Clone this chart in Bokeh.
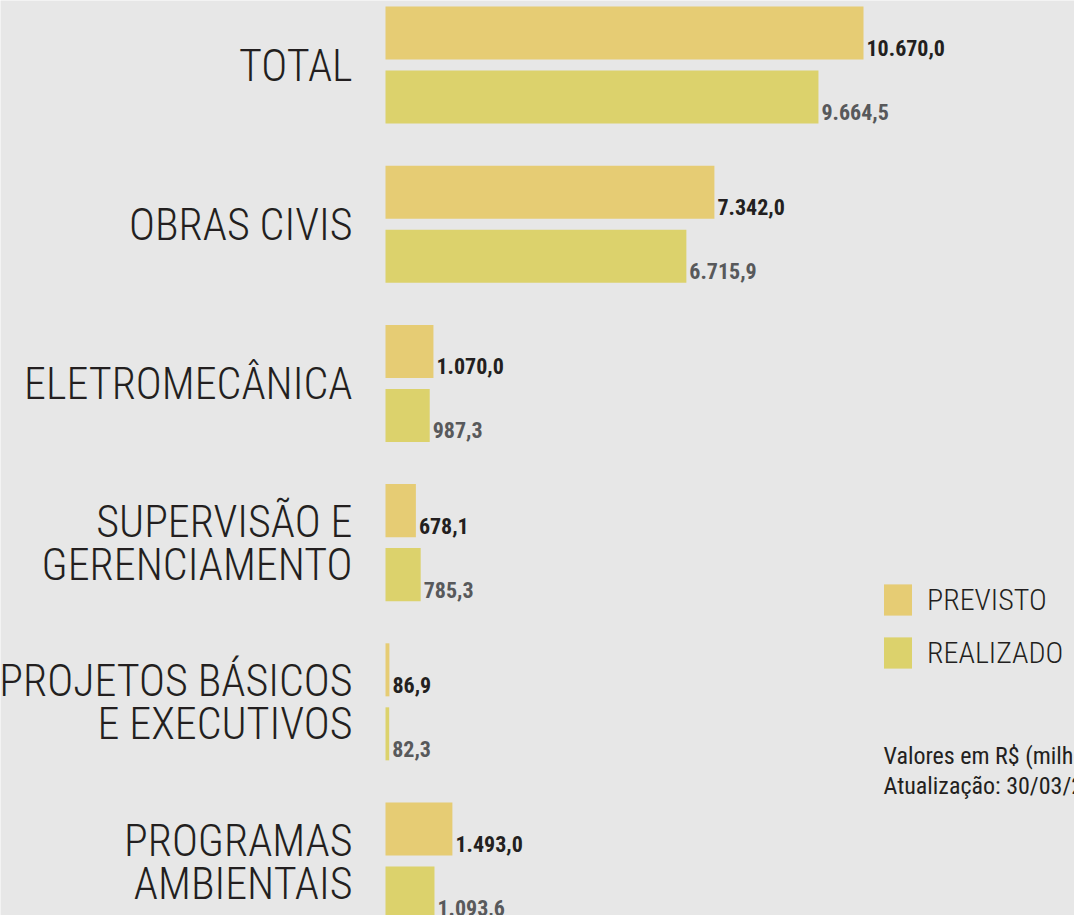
from bokeh.plotting import figure
from bokeh.models import Range1d, ColumnDataSource, Legend, LegendItem, Label
from bokeh.core.properties import value
from bokeh.embed import file_html
from bokeh.resources import INLINE

# ---- data ----
categories = ["TOTAL", "OBRAS CIVIS", "ELETROMECÂNICA", "SUPERVISÃO E\nGERENCIAMENTO",
              "PROJETOS BÁSICOS\nE EXECUTIVOS", "PROGRAMAS\nAMBIENTAIS"]
previsto = [10670.0, 7342.0, 1070.0, 678.1, 86.9, 1493.0]
realizado = [9664.5, 6715.9, 987.3, 785.3, 82.3, 1093.6]
series_names = ["PREVISTO", "REALIZADO"]
note_lines = ["Valores em R$ (milhões)", "Atualização: 30/03/2016"]

BG = "#e7e7e7"
C_PREV = "#e6cc74"
C_REAL = "#dcd26c"
FONT_THIN = "Roboto Condensed Light, Roboto Condensed, sans-serif"
FONT = "Roboto Condensed, sans-serif"


def br(v):
    s = f"{v:,.1f}"
    return s.replace(",", "X").replace(".", ",").replace("X", ".")


W, H = 1074, 915
x0_px = 385.0
px_per_unit = 478.0 / max(previsto)

n = len(categories)
idx = list(range(n))
y_prev = [i - 0.201 for i in idx]
y_real = [i + 0.201 for i in idx]

src_prev = ColumnDataSource(dict(y=y_prev, v=previsto, lab=[br(v) for v in previsto]))
src_real = ColumnDataSource(dict(y=y_real, v=realizado, lab=[br(v) for v in realizado]))

p = figure(width=W, height=H, output_backend="svg", toolbar_location=None,
           x_range=Range1d(-x0_px / px_per_unit, (W - x0_px) / px_per_unit),
           y_range=Range1d(5.342, -0.405),
           x_axis_type=None, y_axis_type=None, min_border=0)
p.background_fill_color = BG
p.border_fill_color = BG
p.outline_line_color = None
p.grid.visible = False

r_prev = p.hbar(y="y", right="v", left=0, height=0.333, source=src_prev,
                fill_color=C_PREV, line_color=None)
r_real = p.hbar(y="y", right="v", left=0, height=0.333, source=src_real,
                fill_color=C_REAL, line_color=None)

p.text(x="v", y="y", text="lab", source=src_prev, x_offset=3, y_offset=15,
       text_font=value(FONT), text_font_style="bold", text_font_size="22px",
       text_color="#231f20", text_baseline="alphabetic", text_align="left")
p.text(x="v", y="y", text="lab", source=src_real, x_offset=3, y_offset=15,
       text_font=value(FONT), text_font_style="bold", text_font_size="22px",
       text_color="#58595b", text_baseline="alphabetic", text_align="left")

# category labels (split lines)
lx, ly, lt, loff = [], [], [], []
for i, c in enumerate(categories):
    lines = c.split("\n")
    k = len(lines)
    for j, t in enumerate(lines):
        lx.append(0)
        ly.append(i)
        lt.append(t)
        loff.append((j - (k - 1) / 2) * 43 + 1)
src_cat = ColumnDataSource(dict(x=lx, y=ly, t=lt, off=loff))
p.text(x="x", y="y", text="t", source=src_cat, x_offset=-33, y_offset="off",
       text_font=value(FONT_THIN), text_font_size="44px", text_color="#231f20",
       text_align="right", text_baseline="middle")

legend = Legend(items=[LegendItem(label=series_names[0], renderers=[r_prev]),
                       LegendItem(label=series_names[1], renderers=[r_real])],
                location=(880, 243), orientation="vertical",
                glyph_width=35, glyph_height=39, label_height=39, spacing=14,
                padding=0, margin=0, label_standoff=12,
                label_text_font=FONT_THIN, label_text_font_size="30px",
                label_text_color="#231f20",
                background_fill_alpha=0, border_line_color=None)
p.add_layout(legend, "center")

for t, yb in zip(note_lines, [160, 130]):
    p.add_layout(Label(x=883, y=yb, x_units="screen", y_units="screen", text=t,
                       text_font=FONT, text_font_size="24px", text_color="#231f20",
                       text_baseline="alphabetic"))

open("out.html", "w").write(file_html(p, INLINE))
